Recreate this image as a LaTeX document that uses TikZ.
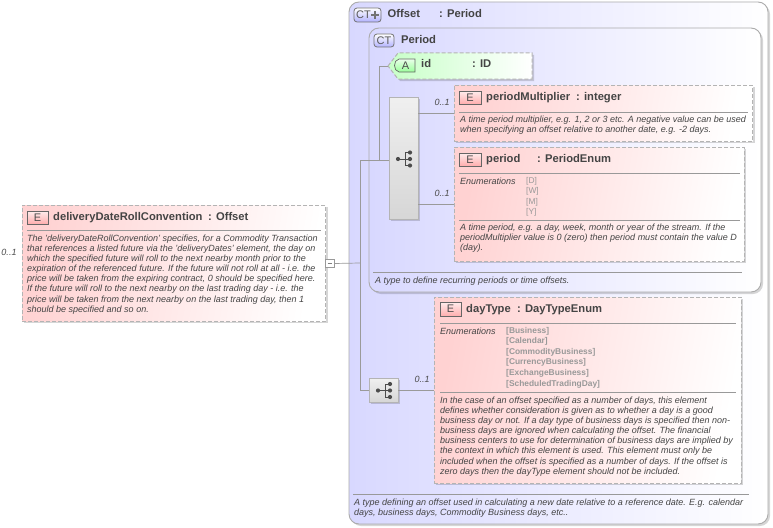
\documentclass[tikz,border=0pt]{standalone}
\usepackage{fontspec}
\setmainfont{Liberation Sans}
\usetikzlibrary{shadows}
\definecolor{linec}{HTML}{9A9A9A}
\definecolor{dashc}{HTML}{B4B4B4}
\definecolor{ctfill}{HTML}{D8D8FF}
\definecolor{elfill}{HTML}{FFD2D2}
\definecolor{txtc}{HTML}{444444}
\tikzset{
  boxbase/.style={inner sep=0pt,outer sep=0pt,anchor=center},
  softshadow/.style={drop shadow={shadow xshift=2pt,shadow yshift=-2pt,opacity=.16,fill=black}},
  ctbox/.style={boxbase,draw=black!33,line width=.9pt,rounded corners=10pt,left color=ctfill,right color=white,softshadow},
  elbox/.style={boxbase,draw=dashc,line width=1pt,dash pattern=on 4pt off 2pt,left color=elfill,right color=white,shading angle=80,softshadow},
  seqbox/.style={boxbase,draw=dashc,line width=.9pt,top color=white!94!black,bottom color=white!84!black,softshadow},
  eicon/.style={boxbase,draw=black!60,line width=.7pt,top color=white!60!elfill,bottom color=red!32,text=black!70,font=\fontsize{11}{11}\selectfont},
  cticon/.style={boxbase,draw=black!55,line width=.8pt,rounded corners=3pt,top color=white,bottom color=blue!30,text=black!65,font=\fontsize{11}{11}\selectfont},
  collapsebox/.style={boxbase,draw=black!40,line width=.6pt,fill=white},
  conn/.style={draw=linec,line width=.7pt},
  sep/.style={draw=black!40,line width=.7pt},
  ttl/.style={inner sep=0pt,anchor=west,yshift=-0.8pt,text=txtc,text height=8pt,text depth=2pt,font=\bfseries\fontsize{11.2}{11.2}\selectfont},
  para/.style={inner sep=0pt,anchor=north west,align=left,text=txtc,font=\itshape\fontsize{9}{10.15}\selectfont},
  card/.style={inner sep=0pt,anchor=center,text=black!70,font=\itshape\fontsize{9}{9}\selectfont},
  enumlab/.style={inner sep=0pt,anchor=west,text=txtc,font=\itshape\fontsize{9}{9}\selectfont},
  enumval/.style={inner sep=0pt,anchor=north west,align=left,text=black!40,font=\fontsize{8.4}{10.4}\selectfont},
  enumvalb/.style={enumval,font=\bfseries\fontsize{8.4}{10.55}\selectfont},
  dotc/.style={fill=black!70,draw=none,circle,minimum size=4.2pt,inner sep=0pt},
}
% name, style, x1, y1, x2, y2
\newcommand{\bx}[6]{\node[#2,minimum width={(#5-#3)*1pt},minimum height={(#6-#4)*1pt}] (#1) at ({(#3+#5)/2},{(#4+#6)/2}) {};}
\newcommand{\ic}[7]{\node[#2,minimum width={(#5-#3)*1pt},minimum height={(#6-#4)*1pt}] (#1) at ({(#3+#5)/2},{(#4+#6)/2}) {#7};}
% model-group glyph: name prefix, dot x, mid y
\newcommand{\seqglyph}[3]{%
  \node[dotc] (#1a) at (#2,#3) {};
  \node[dotc] (#1t) at (#2+12,#3-6.5) {};
  \node[dotc] (#1m) at (#2+12,#3) {};
  \node[dotc] (#1b) at (#2+12,#3+6.5) {};
  \draw[black!70,line width=.8pt] (#1a.center) -- (#1m.center) (#1t.center) -- (#2+7,#3-6.5) -- (#2+7,#3+6.5) -- (#1b.center);
}
\begin{document}
\begin{tikzpicture}[x=1pt,y=-1pt]
\useasboundingbox (0,0) rectangle (773,527);
\fill[white] (0,0) rectangle (773,527);

% outer complex type
\bx{outer}{ctbox}{349}{2}{768}{524}
\ic{ctA}{cticon}{354}{8}{381}{22}{\hspace{-8pt}CT}
\draw[black!55,line width=2.4pt] (371,15) -- (379,15) (375,11) -- (375,19);
\node[ttl] (t1) at (387.5,13.5) {Offset};
\node[ttl] (t1b) at (439,13.5) {: Period};

% inner complex type
\bx{inner}{ctbox}{369}{28}{761}{292}
\ic{ctB}{cticon}{374}{34}{394}{47}{CT}
\node[ttl] (t2) at (401,39.5) {Period};

% connectors
\coordinate (j1) at (360,263);
\coordinate (j2) at (360,160);
\coordinate (j3) at (360,390);
\coordinate (j4) at (379,160);
\coordinate (j5) at (379,66);
\coordinate (aTip) at (388,66);

% attribute id
\path[draw=dashc,line width=1pt,dash pattern=on 4pt off 2pt,left color=green!22,right color=white,
  drop shadow={shadow xshift=2pt,shadow yshift=-2pt,opacity=.16,fill=black}]
  (aTip) -- (398,53) -- (532,53) -- (532,79) -- (398,79) -- cycle;
\draw[draw=black!60,line width=.7pt,top color=green!8,bottom color=green!40]
  (415,59) -- (399,59) .. controls (393,60) and (393,71) .. (399,72) -- (415,72) -- cycle;
\node[inner sep=0pt,text=black!70,font=\fontsize{11}{11}\selectfont] (aL) at (405.5,65.5) {A};
\node[ttl] (t3) at (421,64) {id};
\node[ttl] (t3b) at (472,64) {: ID};

% period multiplier
\bx{pm}{elbox}{454}{85}{752.5}{141}
\ic{e1}{eicon}{459}{91}{481}{104}{E}
\node[ttl] (t4) at (486,97) {periodMultiplier};
\node[ttl] (t4b) at (576,97) {: integer};
\draw[sep] (459,112) -- (748,112);
\node[para] (p4) at (460,115.5) {A time period multiplier, e.g. 1, 2 or 3 etc. A negative value can be used\\when specifying an offset relative to another date, e.g. -2 days.};

% period
\bx{pd}{elbox}{454}{147}{744}{261}
\ic{e2}{eicon}{459}{153}{481}{166}{E}
\node[ttl] (t5) at (486,159) {period};
\node[ttl] (t5b) at (537,159) {: PeriodEnum};
\draw[sep] (459,173) -- (740,173);
\node[enumlab] (l5) at (460,181) {Enumerations};
\node[enumval] (v5) at (526,177) {[D]\\[0pt][W]\\[0pt][M]\\[0pt][Y]};
\draw[sep] (459,220) -- (740,220);
\node[para] (p5) at (460,223.5) {A time period, e.g. a day, week, month or year of the stream. If the\\periodMultiplier value is 0 (zero) then period must contain the value D\\(day).};

% sequence group (Period)
\bx{seq1}{seqbox}{389}{97}{418}{219}
\seqglyph{g1}{398}{159}

\draw[sep] (373,272) -- (742,272);
\node[para] (p2) at (375,276.5) {A type to define recurring periods or time offsets.};

% dayType
\bx{dt}{elbox}{434}{297}{741}{483}
\ic{e3}{eicon}{440}{302}{461}{316}{E}
\node[ttl] (t6) at (466,308.5) {dayType};
\node[ttl] (t6b) at (517,308.5) {: DayTypeEnum};
\draw[sep] (440,323) -- (736,323);
\node[enumlab] (l6) at (440,331) {Enumerations};
\node[enumvalb] (v6) at (506,327) {[Business]\\[0pt][Calendar]\\[0pt][CommodityBusiness]\\[0pt][CurrencyBusiness]\\[0pt][ExchangeBusiness]\\[0pt][ScheduledTradingDay]};
\draw[sep] (440,392) -- (736,392);
\node[para] (p6) at (440,396.5) {In the case of an offset specified as a number of days, this element\\defines whether consideration is given as to whether a day is a good\\business day or not. If a day type of business days is specified then non-\\business days are ignored when calculating the offset. The financial\\business centers to use for determination of business days are implied by\\the context in which this element is used. This element must only be\\included when the offset is specified as a number of days. If the offset is\\zero days then the dayType element should not be included.};

% sequence group (Offset)
\bx{seq2}{seqbox}{369}{378}{398}{402}
\seqglyph{g2}{378}{390.5}

\draw[sep] (353,494) -- (749,494);
\node[para] (p1) at (354,498.5) {A type defining an offset used in calculating a new date relative to a reference date. E.g. calendar\\days, business days, Commodity Business days, etc..};

% root element
\bx{root}{elbox}{22}{205}{325.5}{321}
\ic{e0}{eicon}{27}{211}{48}{224}{E}
\node[ttl] (t0) at (53,217) {deliveryDateRollConvention};
\node[ttl] (t0b) at (208,217) {: Offset};
\draw[sep] (27,230) -- (321,230);
\node[para] (p0) at (27,234.5) {The 'deliveryDateRollConvention' specifies, for a Commodity Transaction\\that references a listed future via the 'deliveryDates' element, the day on\\which the specified future will roll to the next nearby month prior to the\\expiration of the referenced future. If the future will not roll at all - i.e. the\\price will be taken from the expiring contract, 0 should be specified here.\\If the future will roll to the next nearby on the last trading day - i.e. the\\price will be taken from the next nearby on the last trading day, then 1\\should be specified and so on.};

\bx{col}{collapsebox}{325.5}{259.5}{334}{267.5}
\draw[black!50,line width=.6pt] (327.5,263.5) -- (332,263.5);

% cardinalities
\node[card] (c0) at (9,252) {0..1};
\node[card] (c1) at (442,102) {0..1};
\node[card] (c2) at (442,193) {0..1};
\node[card] (c3) at (422,379) {0..1};

% wires
\draw[conn] (col.east) -- (j1);
\draw[conn] (j2) -- (j3) -- (seq2.west);
\draw[conn] (j2) -- (seq1.west |- j2);
\draw[conn] (j4) -- (j5) -- (aTip);
\coordinate (w1) at (418,113);
\coordinate (w2) at (454,113);
\coordinate (w3) at (418,204);
\coordinate (w4) at (454,204);
\draw[conn] (w1) -- (w2);
\draw[conn] (w3) -- (w4);
\draw[conn] (seq2.east) -- (dt.west |- seq2.east);
\end{tikzpicture}
\end{document}
